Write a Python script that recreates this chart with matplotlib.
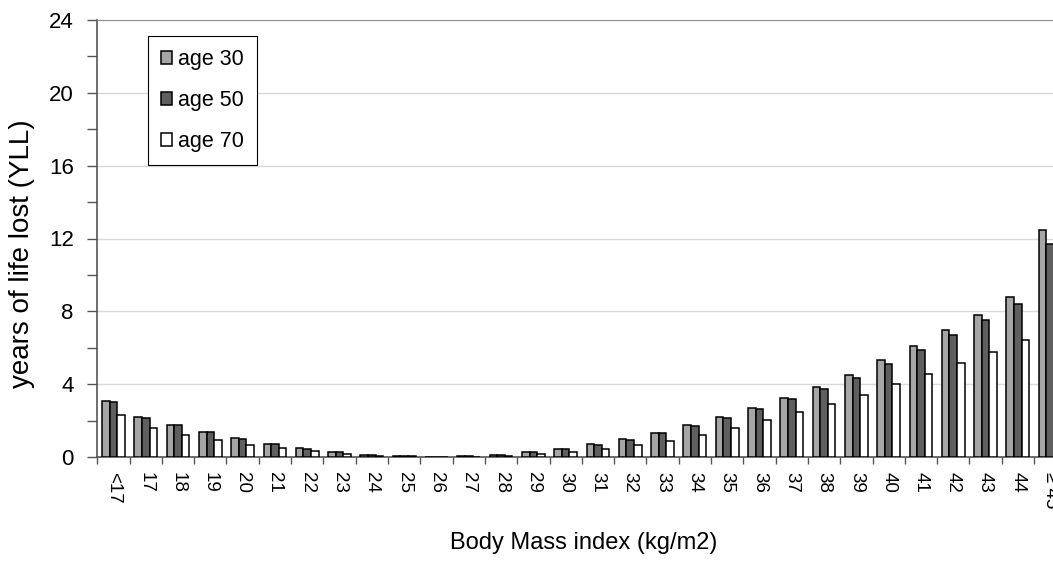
import numpy as np
import matplotlib
matplotlib.use("Agg")
import matplotlib.pyplot as plt
from matplotlib.ticker import MultipleLocator, FixedLocator

plt.rcParams['font.family'] = ['Liberation Sans', 'DejaVu Sans']

categories = ['<17'] + [str(i) for i in range(17, 45)] + ['\u2265 45']

age30 = [3.08, 2.2, 1.78, 1.37, 1.02, 0.72, 0.47, 0.30, 0.13, 0.05,
         0.0, 0.03, 0.10, 0.27, 0.45, 0.70, 0.98, 1.33, 1.76, 2.20,
         2.71, 3.26, 3.85, 4.53, 5.30, 6.08, 6.96, 7.82, 8.78, 12.44]
age50 = [3.0, 2.15, 1.73, 1.35, 0.99, 0.70, 0.45, 0.28, 0.12, 0.05,
         0.0, 0.03, 0.09, 0.26, 0.45, 0.68, 0.96, 1.30, 1.71, 2.15,
         2.62, 3.17, 3.76, 4.36, 5.13, 5.86, 6.69, 7.51, 8.39, 11.72]
age70 = [2.3, 1.6, 1.23, 0.93, 0.64, 0.47, 0.33, 0.18, 0.08, 0.03,
         0.0, 0.02, 0.06, 0.18, 0.30, 0.45, 0.64, 0.88, 1.23, 1.60,
         2.01, 2.45, 2.91, 3.41, 3.99, 4.56, 5.17, 5.75, 6.41, 8.6]

x = np.arange(len(categories))
w = 0.235

fig = plt.figure(figsize=(10.53, 5.63), dpi=100)
ax = fig.add_axes([97.3 / 1053, 106 / 563, 969 / 1053, 437 / 563])

ax.bar(x - w, age30, w, color='#a6a6a6', edgecolor='black', linewidth=1.1, label='age 30', zorder=3)
ax.bar(x, age50, w, color='#5f5f5f', edgecolor='black', linewidth=1.1, label='age 50', zorder=3)
ax.bar(x + w, age70, w, color='white', edgecolor='black', linewidth=1.1, label='age 70', zorder=3)

ax.set_xlim(-0.5, len(categories) - 0.5)
ax.set_ylim(0, 24)
ax.yaxis.set_major_locator(MultipleLocator(4))
ax.yaxis.set_minor_locator(MultipleLocator(2))
ax.grid(axis='y', which='major', color='#d9d9d9', linewidth=1, zorder=0)

ax.set_xticks(x)
ax.set_xticklabels(categories, rotation=270, fontsize=13.5)
ax.xaxis.set_minor_locator(FixedLocator(np.arange(-0.5, len(categories), 1)))
ax.tick_params(axis='x', which='major', length=0, pad=11)
ax.tick_params(axis='x', which='minor', length=5, width=1, color='#555555')
ax.tick_params(axis='y', which='both', length=7, width=1, color='#555555', labelsize=16, pad=10)

ax.spines['right'].set_visible(False)
ax.spines['top'].set_color('#909090')
ax.spines['left'].set_color('#555555')
ax.spines['bottom'].set_color('#555555')
ax.spines['left'].set_linewidth(1.2)
ax.spines['bottom'].set_linewidth(1.2)

ax.set_ylabel('years of life lost (YLL)', fontsize=20)
ax.yaxis.set_label_coords(-0.064, 0.465)
ax.set_xlabel('Body Mass index (kg/m2)', fontsize=17)
ax.xaxis.set_label_coords(0.502, -0.172)

leg = ax.legend(loc='upper left', bbox_to_anchor=(0.052, 0.963), fontsize=15.5,
                frameon=True, fancybox=False, edgecolor='black', framealpha=1,
                handlelength=0.55, handleheight=0.55, handletextpad=0.28,
                labelspacing=0.92, borderpad=0.6, borderaxespad=0)
leg.get_frame().set_linewidth(0.8)

fig.savefig('out.png', dpi=100)
